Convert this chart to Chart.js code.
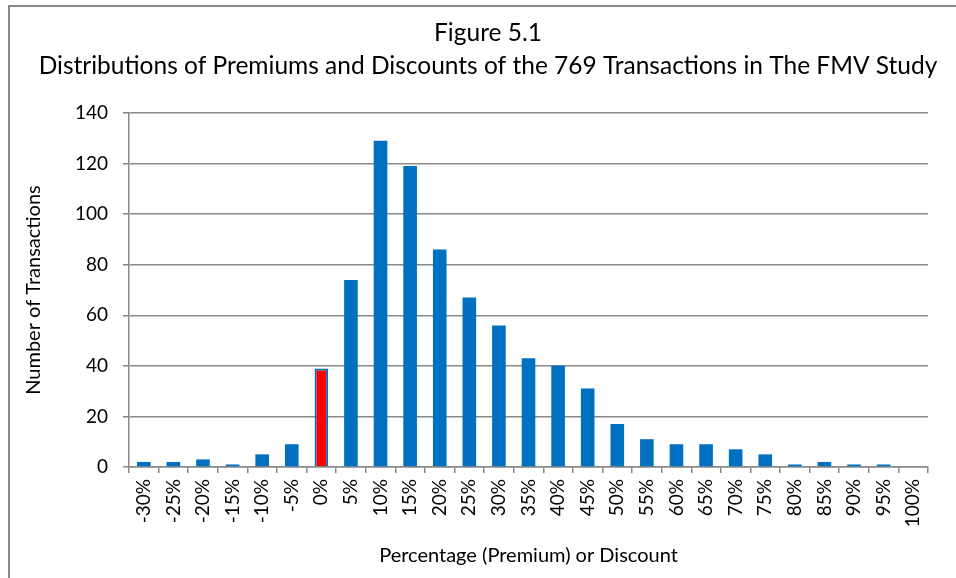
<!DOCTYPE html>
<html>
<head>
<meta charset="utf-8">
<title>Figure 5.1</title>
<script src="https://cdn.jsdelivr.net/npm/chart.js@4"></script>
<style>
  html, body { margin: 0; padding: 0; background: #fff; overflow: hidden; }
  #frame {
    position: absolute; left: 8px; top: 5px;
    width: 980px; height: 600px;
    border-left: 2px solid #898989;
    border-top: 2px solid #898989;
  }
  #chart { position: absolute; left: 0; top: 0; }
</style>
</head>
<body>
<div id="frame">
  <canvas id="chart" width="956" height="571"></canvas>
</div>
<script>
// Premium / discount buckets and the number of transactions in each
const bucketLabels = ['-30%','-25%','-20%','-15%','-10%','-5%','0%','5%','10%','15%',
  '20%','25%','30%','35%','40%','45%','50%','55%','60%','65%','70%','75%','80%',
  '85%','90%','95%','100%'];
const transactionCounts = [2, 2, 3, 1, 5, 9, 39, 74, 129, 119, 86, 67, 56, 43, 40, 31,
  17, 11, 9, 9, 7, 5, 1, 2, 1, 1, 0];
const yTicks = [0, 20, 40, 60, 80, 100, 120, 140];
const highlightBucket = '0%';

const BLUE = '#0070C0';
const RED = '#FF0000';
const GRID = '#898989';
const FONT = 'Lato';

const barColors = bucketLabels.map(l => l === highlightBucket ? RED : BLUE);
const barBorders = bucketLabels.map(l => l === highlightBucket ? 2 : 0);

new Chart(document.getElementById('chart'), {
  type: 'bar',
  data: {
    labels: bucketLabels,
    datasets: [{
      label: 'Transactions',
      data: transactionCounts,
      backgroundColor: barColors,
      borderColor: BLUE,
      borderWidth: barBorders,
      categoryPercentage: 1,
      barPercentage: 0.46
    }]
  },
  options: {
    responsive: false,
    animation: false,
    layout: { padding: 0 },
    plugins: {
      legend: { display: false },
      tooltip: { enabled: false },
      title: {
        display: true,
        text: ['Figure 5.1', 'Distributions of Premiums and Discounts of the 769 Transactions in The FMV Study'],
        color: '#000',
        font: { family: FONT, size: 24.5, weight: 'normal', lineHeight: 1.347 },
        padding: { top: 9.5, bottom: 30.5 }
      }
    },
    scales: {
      x: {
        afterFit: s => { s.height = 111; },
        grid: { display: true, drawOnChartArea: false, drawTicks: true, tickLength: 6, color: GRID, lineWidth: 1.5, offset: true },
        border: { display: true, color: GRID, width: 1.5 },
        ticks: { color: '#000', font: { family: FONT, size: 19 }, minRotation: 90, maxRotation: 90, padding: 6, autoSkip: false },
        title: {
          display: true,
          text: 'Percentage (Premium) or Discount',
          color: '#000',
          font: { family: FONT, size: 20, lineHeight: 1.2 },
          padding: { top: 10, bottom: 10 }
        }
      },
      y: {
        min: 0,
        max: 140,
        afterFit: s => { s.width = 119; },
        afterBuildTicks: s => { s.ticks = yTicks.map(v => ({ value: v })); },
        grid: { color: GRID, lineWidth: 1.5, tickLength: 6 },
        border: { display: true, color: GRID, width: 1.5 },
        ticks: { color: '#000', font: { family: FONT, size: 19 }, padding: 15 },
        title: {
          display: true,
          text: 'Number of Transactions',
          color: '#000',
          font: { family: FONT, size: 20, lineHeight: 1.2 },
          padding: { top: 12, bottom: 0 }
        }
      },
      // empty right-hand gap so the title stays centred on the whole figure
      gap: {
        type: 'linear',
        position: 'right',
        afterFit: s => { s.width = 38; },
        grid: { display: false },
        border: { display: false },
        ticks: { display: false }
      }
    }
  }
});
</script>
</body>
</html>
